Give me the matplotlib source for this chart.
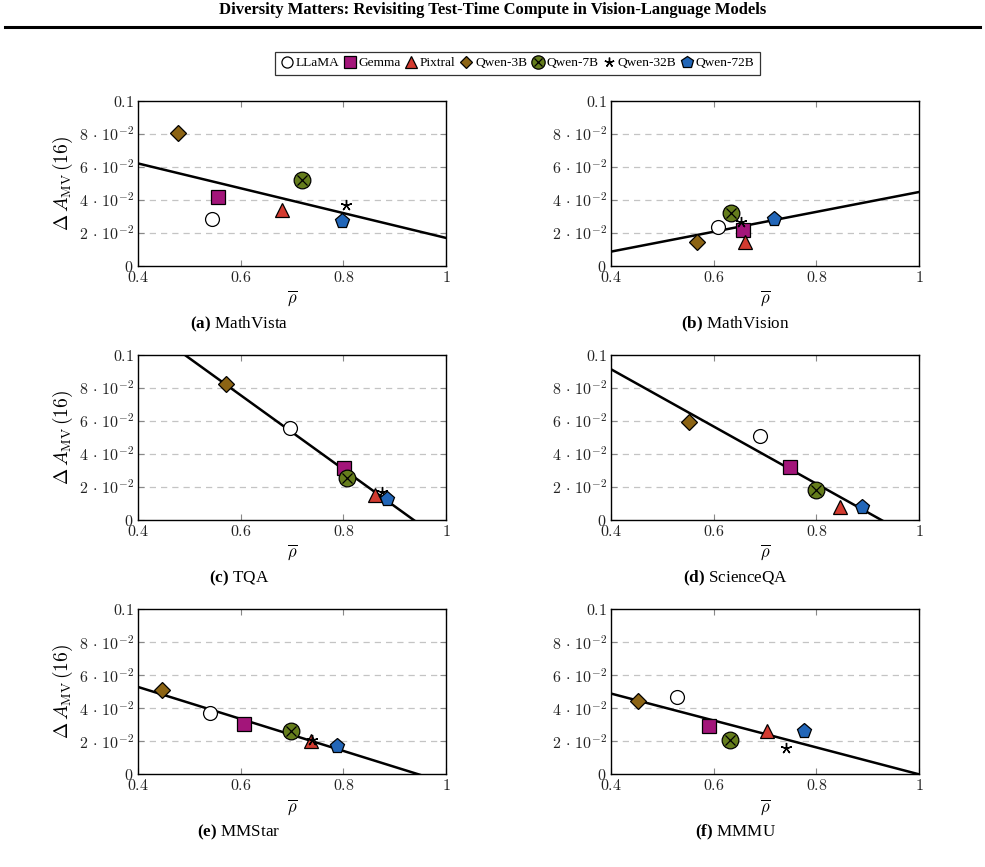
import matplotlib
matplotlib.use("Agg")
import matplotlib.pyplot as plt
from matplotlib.lines import Line2D

plt.rcParams['mathtext.fontset'] = 'cm'
plt.rcParams['mathtext.rm'] = 'Liberation Serif'
plt.rcParams['mathtext.bf'] = 'Liberation Serif:bold'
plt.rcParams['font.family'] = 'Liberation Serif'
plt.rcParams['axes.unicode_minus'] = False

# models and their look
models = ["LLaMA", "Gemma", "Pixtral", "Qwen-3B", "Qwen-7B", "Qwen-32B", "Qwen-72B"]
markers = ["o", "s", "^", "D", "o", (5, 2, 0), "p"]
colors = ["white", "#A3157A", "#D33B30", "#8C6414", "#657D1C", "black", "#2266B8"]
sizes = [10, 10, 10, 8, 12, 8, 11]

panels = ["MathVista", "MathVision", "TQA", "ScienceQA", "MMStar", "MMMU"]
letters = ["a", "b", "c", "d", "e", "f"]

# mean correlation (x) per panel, in model order
rho = [
    [0.545, 0.555, 0.680, 0.478, 0.720, 0.805, 0.797],
    [0.608, 0.657, 0.661, 0.568, 0.633, 0.654, 0.717],
    [0.696, 0.801, 0.862, 0.571, 0.808, 0.875, 0.886],
    [0.691, 0.748, 0.847, 0.552, 0.799, 0.889, 0.889],
    [0.540, 0.606, 0.737, 0.447, 0.699, 0.738, 0.788],
    [0.528, 0.591, 0.704, 0.453, 0.631, 0.740, 0.775],
]
# majority-vote gain (y) per panel, in model order
gain = [
    [0.0284, 0.0416, 0.0340, 0.0803, 0.0518, 0.0369, 0.0274],
    [0.0234, 0.0218, 0.0143, 0.0143, 0.0322, 0.0268, 0.0282],
    [0.0556, 0.0317, 0.0152, 0.0822, 0.0253, 0.0172, 0.0125],
    [0.0511, 0.0319, 0.0081, 0.0596, 0.0182, 0.0085, 0.0081],
    [0.0371, 0.0306, 0.0203, 0.0509, 0.0260, 0.0210, 0.0174],
    [0.0467, 0.0294, 0.0260, 0.0446, 0.0209, 0.0158, 0.0260],
]
# fit line value at rho=0.4 and rho=1.0
fit_lo = [0.0621, 0.0087, 0.1204, 0.0913, 0.0529, 0.0489]
fit_hi = [0.0170, 0.0448, -0.0141, -0.0127, -0.0052, 0.0000]

yticks = [0, 0.02, 0.04, 0.06, 0.08, 0.1]
ytick_labels = ["$0$", r"$2\,\cdot\,10^{-2}$", r"$4\,\cdot\,10^{-2}$", r"$6\,\cdot\,10^{-2}$",
                r"$8\,\cdot\,10^{-2}$", "$0.1$"]
xticks = [0.4, 0.6, 0.8, 1.0]
xtick_labels = ["$0.4$", "$0.6$", "$0.8$", "$1$"]

fig = plt.figure(figsize=(9.85, 8.67), dpi=100)

lefts = [0.1401, 0.6203]
bottoms = [0.6932, 0.4002, 0.1069]
w, h = 0.3127, 0.1905
cap_dx = [-0.054, -0.030]

for i in range(6):
    r, c = divmod(i, 2)
    ax = fig.add_axes([lefts[c], bottoms[r], w, h])
    ax.set_xlim(0.4, 1.0)
    ax.set_ylim(0, 0.1)
    for y in yticks[1:-1]:
        ax.axhline(y, color="#c4c4c4", lw=0.9, dashes=(5, 4), zorder=1)
    ax.plot([0.4, 1.0], [fit_lo[i], fit_hi[i]], color="black", lw=1.8, zorder=2)
    for j, m in enumerate(models):
        if j == 5:
            ax.plot(rho[i][j], gain[i][j], marker=markers[j], ms=sizes[j], color="black",
                    mew=1.0, ls="none", zorder=3)
        else:
            ax.plot(rho[i][j], gain[i][j], marker=markers[j], ms=sizes[j], mfc=colors[j],
                    mec="black", mew=0.9, ls="none", zorder=3)
        if j == 4:
            ax.plot(rho[i][j], gain[i][j], marker="x", ms=7, color="black", mew=0.9,
                    ls="none", zorder=4)
    ax.set_xticks(xticks)
    ax.set_xticklabels(xtick_labels, fontsize=11.5)
    ax.set_yticks(yticks)
    ax.set_yticklabels(ytick_labels, fontsize=11.5)
    ax.tick_params(direction="in", top=True, right=True, length=4, width=0.8,
                   color="#888888", pad=3, labelcolor="#222222")
    for s in ax.spines.values():
        s.set_linewidth(1.0)
    ax.set_xlabel(r"$\overline{\rho}$", fontsize=12, labelpad=2)
    if c == 0:
        ax.set_ylabel(r"$\Delta\, A_{\mathrm{MV}}\,(16)$", fontsize=14, labelpad=3,
                      math_fontfamily="cm")
    fig.text(lefts[c] + w / 2 + cap_dx[c], bottoms[r] - 0.067,
             r"$\mathbf{(" + letters[i] + ")}$ " + panels[i],
             ha="center", va="center", fontsize=12.3, math_fontfamily="custom")

# legend
handles = []
for j, m in enumerate(models):
    if j == 5:
        hd = Line2D([], [], marker=markers[j], ms=7, color="black", mew=1.0, ls="none")
    else:
        hd = Line2D([], [], marker=markers[j], ms=sizes[j] * 0.8, mfc=colors[j],
                    mec="black", mew=0.9, ls="none")
    if j == 4:
        hd = (hd, Line2D([], [], marker="x", ms=6, color="black", mew=0.9, ls="none"))
    handles.append(hd)
leg = fig.legend(handles, models, loc="center", bbox_to_anchor=(0.525, 0.927), ncol=7,
                 fontsize=9.6, frameon=True, fancybox=False, edgecolor="black",
                 handlelength=1.0, handletextpad=0.15, columnspacing=0.3,
                 borderpad=0.4, borderaxespad=0)
leg.get_frame().set_linewidth(0.9)

fig.text(0.5, 0.988, "Diversity Matters: Revisiting Test-Time Compute in Vision-Language Models",
         ha="center", va="center", fontsize=12, fontweight="bold")
fig.add_artist(Line2D([0.005, 0.995], [0.969, 0.969], color="black", lw=2.2))

fig.savefig("out.png", dpi=100)
